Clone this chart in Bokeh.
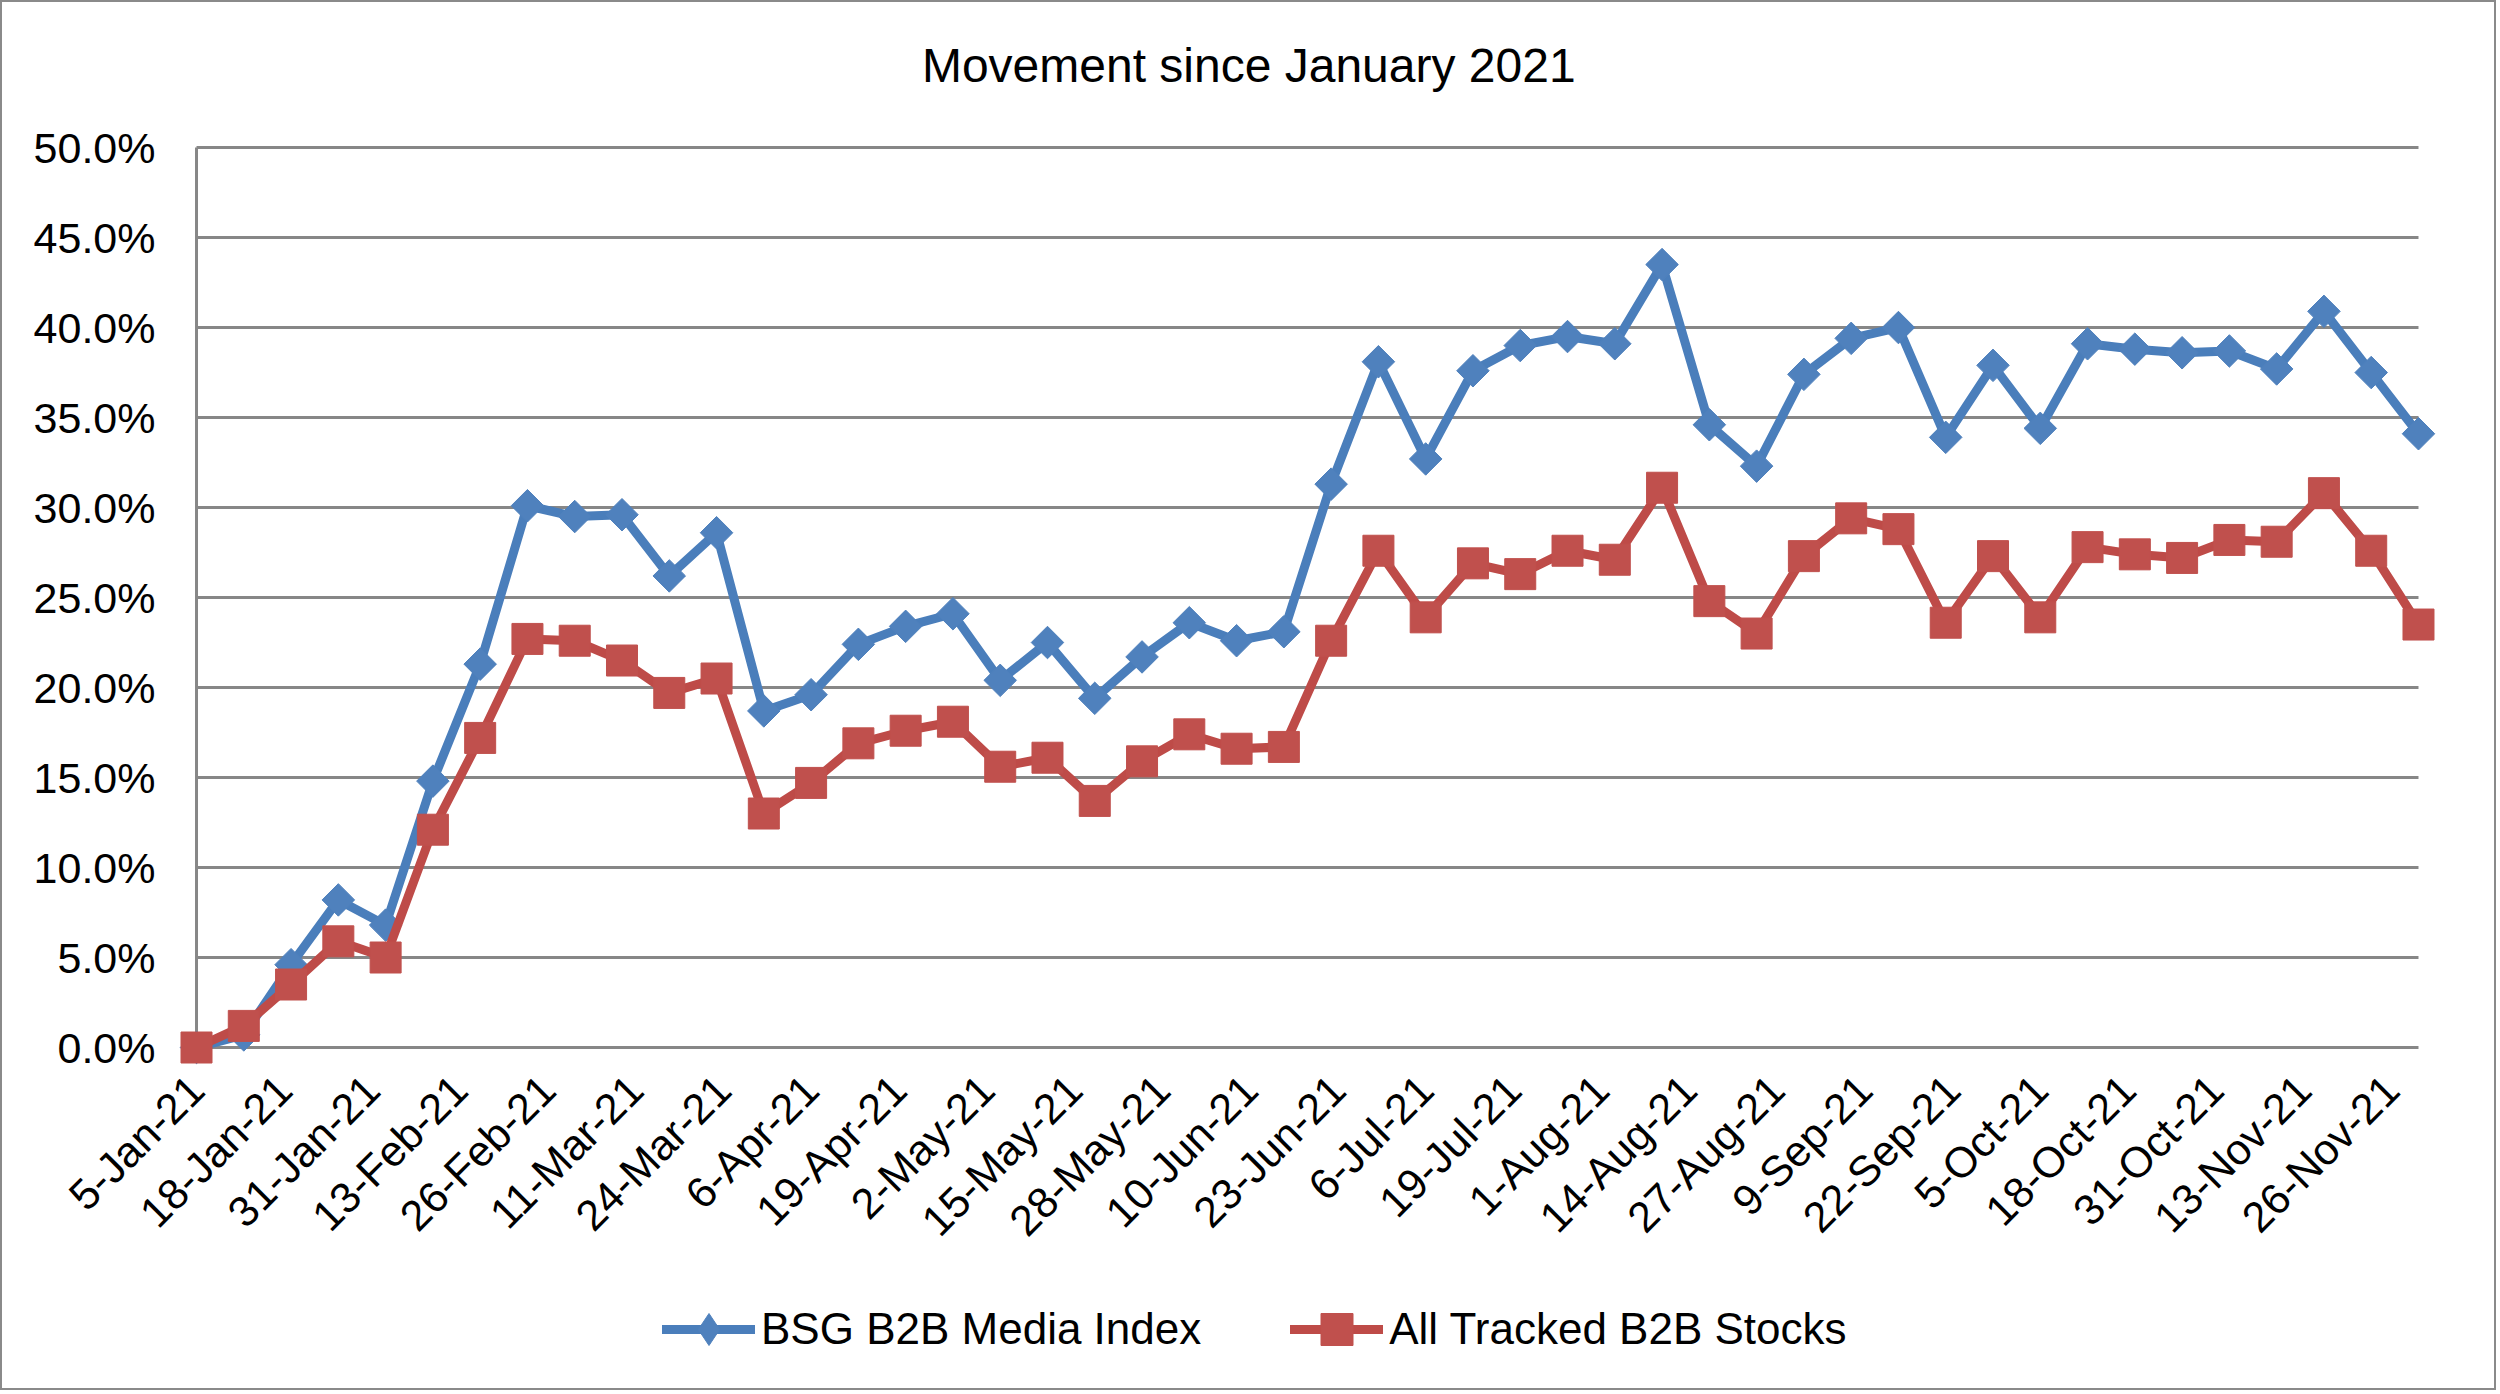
import math
import pandas as pd
from bokeh.plotting import figure
from bokeh.layouts import column
from bokeh.models import Range1d, Legend, LegendItem, Label, FixedTicker, ColumnDataSource
from bokeh.embed import file_html
from bokeh.resources import INLINE

# ---------------- data ----------------
dates = [
    "2021-01-05", "2021-01-12", "2021-01-19", "2021-01-26",
    "2021-02-02", "2021-02-09", "2021-02-16", "2021-02-23",
    "2021-03-02", "2021-03-09", "2021-03-16", "2021-03-23", "2021-03-30",
    "2021-04-06", "2021-04-13", "2021-04-20", "2021-04-27",
    "2021-05-04", "2021-05-11", "2021-05-18", "2021-05-25",
    "2021-06-01", "2021-06-08", "2021-06-15", "2021-06-22", "2021-06-29",
    "2021-07-06", "2021-07-13", "2021-07-20", "2021-07-27",
    "2021-08-03", "2021-08-10", "2021-08-17", "2021-08-24", "2021-08-31",
    "2021-09-07", "2021-09-14", "2021-09-21", "2021-09-28",
    "2021-10-05", "2021-10-12", "2021-10-19", "2021-10-26",
    "2021-11-02", "2021-11-09", "2021-11-16", "2021-11-23", "2021-11-30",
]

bsg_index = [0.0, 0.7, 4.6, 8.2, 6.8, 14.8, 21.3, 30.1, 29.5, 29.6,
             26.2, 28.6, 18.7, 19.6, 22.4, 23.4, 24.1, 20.4, 22.5, 19.4,
             21.7, 23.6, 22.6, 23.1, 31.3, 38.1, 32.7, 37.6, 39.0, 39.5,
             39.1, 43.5, 34.6, 32.3, 37.4, 39.4, 40.0, 33.9, 37.9, 34.4,
             39.1, 38.8, 38.6, 38.7, 37.7, 40.9, 37.5, 34.1]

all_b2b = [0.0, 1.2, 3.5, 5.9, 5.0, 12.1, 17.2, 22.7, 22.6, 21.5,
           19.7, 20.5, 13.0, 14.7, 16.9, 17.6, 18.1, 15.6, 16.1, 13.7,
           15.9, 17.4, 16.6, 16.7, 22.6, 27.6, 23.9, 26.9, 26.3, 27.6,
           27.1, 31.1, 24.8, 23.0, 27.3, 29.4, 28.8, 23.6, 27.3, 23.9,
           27.8, 27.4, 27.2, 28.2, 28.1, 30.8, 27.6, 23.5]

tick_dates = ["2021-01-05", "2021-01-18", "2021-01-31", "2021-02-13", "2021-02-26",
              "2021-03-11", "2021-03-24", "2021-04-06", "2021-04-19", "2021-05-02",
              "2021-05-15", "2021-05-28", "2021-06-10", "2021-06-23", "2021-07-06",
              "2021-07-19", "2021-08-01", "2021-08-14", "2021-08-27", "2021-09-09",
              "2021-09-22", "2021-10-05", "2021-10-18", "2021-10-31", "2021-11-13",
              "2021-11-26"]
tick_labels = ["5-Jan-21", "18-Jan-21", "31-Jan-21", "13-Feb-21", "26-Feb-21",
               "11-Mar-21", "24-Mar-21", "6-Apr-21", "19-Apr-21", "2-May-21",
               "15-May-21", "28-May-21", "10-Jun-21", "23-Jun-21", "6-Jul-21",
               "19-Jul-21", "1-Aug-21", "14-Aug-21", "27-Aug-21", "9-Sep-21",
               "22-Sep-21", "5-Oct-21", "18-Oct-21", "31-Oct-21", "13-Nov-21",
               "26-Nov-21"]

y_ticks = [0, 5, 10, 15, 20, 25, 30, 35, 40, 45, 50]
y_tick_labels = ["0.0%", "5.0%", "10.0%", "15.0%", "20.0%", "25.0%",
                 "30.0%", "35.0%", "40.0%", "45.0%", "50.0%"]

series_names = ["BSG B2B Media Index", "All Tracked B2B Stocks"]
title_text = "Movement since January 2021"

# ---------------- styling ----------------
BLUE = "#4A7EBB"
BLUE_M = "#4F81BD"
RED = "#BE4B48"
RED_M = "#C0504D"
GRID = "#878787"
FONT = "Liberation Sans"
W = 2492

d0 = pd.Timestamp(dates[0])
x = [(pd.Timestamp(d) - d0).days for d in dates]
tx = [(pd.Timestamp(d) - d0).days for d in tick_dates]
x_end = x[-1]

src = ColumnDataSource(dict(x=x, bsg=bsg_index, allb=all_b2b))

# ---------------- main chart ----------------
p = figure(width=W, height=1270, output_backend="svg", toolbar_location=None,
           x_range=Range1d(-4, x_end + 4), y_range=Range1d(-1.5, 58.06),
           min_border_left=167, min_border_right=49,
           min_border_top=0, min_border_bottom=198)
p.outline_line_color = None
p.xgrid.visible = False
p.ygrid.visible = False
p.background_fill_color = "white"
p.border_fill_color = "white"

# gridlines and vertical axis line (limited to the data span)
p.segment(x0=[x[0]] * len(y_ticks), y0=y_ticks, x1=[x_end] * len(y_ticks), y1=y_ticks,
          line_color=GRID, line_width=3)
p.segment(x0=[x[0]], y0=[y_ticks[0]], x1=[x[0]], y1=[y_ticks[-1]],
          line_color=GRID, line_width=3)

line_kw = dict(line_width=9, line_join="round", line_cap="round")
diamond_kw = dict(marker="square", angle=math.pi / 4, fill_color=BLUE_M, line_color=BLUE_M)
square_kw = dict(marker="square", fill_color=RED_M, line_color=RED_M)

p.line("x", "bsg", source=src, line_color=BLUE, **line_kw)
p.scatter("x", "bsg", source=src, size=23, **diamond_kw)
p.line("x", "allb", source=src, line_color=RED, **line_kw)
p.scatter("x", "allb", source=src, size=31, **square_kw)

# title (inside the frame area, above the 50% line)
p.add_layout(Label(x=155.8, y=54.56, text=title_text, text_align="center",
                   text_baseline="middle", text_font=FONT, text_font_size="48px",
                   text_color="black"))

# axes
xa = p.xaxis[0]
xa.ticker = FixedTicker(ticks=tx)
xa.major_label_overrides = {t: lab for t, lab in zip(tx, tick_labels)}
xa.major_label_orientation = math.pi / 4
ya = p.yaxis[0]
ya.ticker = FixedTicker(ticks=y_ticks)
ya.major_label_overrides = {t: lab for t, lab in zip(y_ticks, y_tick_labels)}
for ax in (xa, ya):
    ax.axis_line_color = None
    ax.major_tick_line_color = None
    ax.minor_tick_line_color = None
    ax.major_tick_out = 0
    ax.major_tick_in = 0
    ax.major_label_text_font = FONT
    ax.major_label_text_font_size = "43px"
    ax.major_label_text_color = "black"
xa.major_label_standoff = 8
ya.major_label_standoff = 14

# ---------------- legend strip ----------------
# Same series, but the strip's view window lies outside the data, so only the
# legend entries are visible.
q = figure(width=W, height=116, output_backend="svg", toolbar_location=None,
           x_axis_location=None, y_axis_location=None,
           x_range=Range1d(-20, -19), y_range=Range1d(-20, -19),
           min_border_left=0, min_border_right=0, min_border_top=0, min_border_bottom=0)
q.grid.visible = False
q.outline_line_color = None
q.background_fill_color = "white"
q.border_fill_color = "white"

lk1 = q.line("x", "bsg", source=src, line_color=BLUE, **line_kw)
mk1 = q.scatter("x", "bsg", source=src, marker="diamond",
                fill_color=BLUE_M, line_color=BLUE_M)
lk2 = q.line("x", "allb", source=src, line_color=RED, **line_kw)
mk2 = q.scatter("x", "allb", source=src, **square_kw)

legend = Legend(items=[LegendItem(label=series_names[0], renderers=[lk1, mk1]),
                       LegendItem(label=series_names[1], renderers=[lk2, mk2])],
                orientation="horizontal", location=(493, 19),
                glyph_width=93, glyph_height=80, label_standoff=6, spacing=89,
                padding=6, margin=0, border_line_color=None,
                background_fill_alpha=0,
                label_text_font=FONT, label_text_font_size="44px",
                label_text_color="black")
q.add_layout(legend, "center")

layout = column(p, q, spacing=0)
layout.styles = {"border": "2px solid #8a8a8a"}

open("out.html", "w").write(file_html(layout, INLINE))
